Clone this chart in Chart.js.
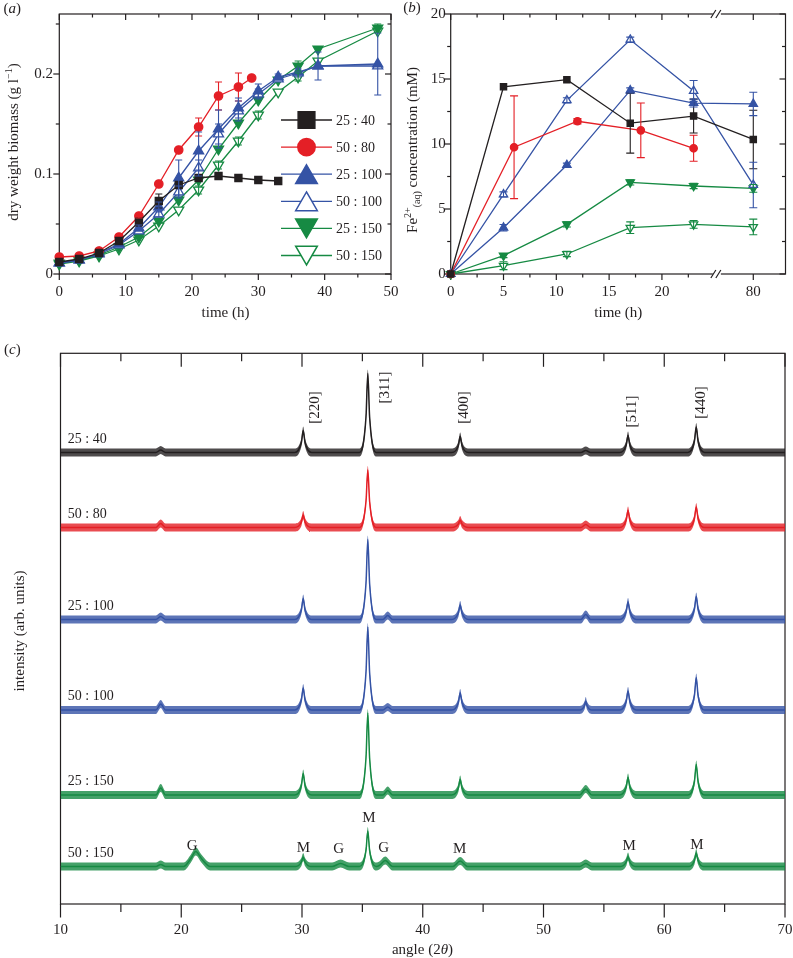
<!DOCTYPE html>
<html lang="en">
<head>
<meta charset="utf-8">
<title>biomass, Fe2+ and XRD</title>
<script src="https://cdn.jsdelivr.net/npm/chart.js@4.4.1/dist/chart.umd.min.js"></script>
<style>
  body{margin:0;background:#fff;}
  #lienzo{position:relative;width:793px;height:958px;background:#fff;overflow:hidden;}
  #lienzo canvas{position:absolute;}
</style>
</head>
<body>
<div id="lienzo">
  <canvas id="graficoA" width="400" height="325" style="left:0;top:0"></canvas>
  <canvas id="graficoB" width="393" height="325" style="left:400px;top:0"></canvas>
  <canvas id="graficoC" width="793" height="628" style="left:0;top:330px"></canvas>
</div>
<script>
// ---------- (a) biomasa seca vs tiempo ----------
const etiquetas = ['25 : 40','50 : 80','25 : 100','50 : 100','25 : 150','50 : 150'];
const tA        = [0,3,6,9,12,15,18,21,24,27,30,33,36,39,48];
const tA_25_40  = [0,3,6,9,12,15,18,21,24,27,30,33];
const tA_50_80  = [0,3,6,9,12,15,18,21,24,27,29];
const bio_25_40  = [0.012,0.015,0.021,0.033,0.052,0.073,0.089,0.096,0.098,0.096,0.094,0.093];
const bio_50_80  = [0.017,0.018,0.023,0.037,0.058,0.090,0.124,0.147,0.178,0.187,0.196];
const bio_25_100 = [0.011,0.014,0.021,0.030,0.046,0.067,0.096,0.123,0.145,0.166,0.183,0.197,0.202,0.208,0.210];
const bio_50_100 = [0.011,0.014,0.020,0.029,0.043,0.060,0.082,0.106,0.140,0.163,0.180,0.195,0.201,0.208,0.208];
const bio_25_150 = [0.011,0.014,0.019,0.027,0.037,0.053,0.074,0.094,0.125,0.151,0.174,0.194,0.208,0.225,0.246];
const bio_50_150 = [0.010,0.013,0.018,0.025,0.034,0.048,0.064,0.084,0.109,0.133,0.159,0.182,0.197,0.213,0.243];
const errBio_25_40  = [0,0,0,0,0.004,0.007,0.003,0.003,0,0,0,0];
const errBio_50_80  = [0,0,0,0,0.002,0,0.002,0.009,0.014,0.014,0];
const errBio_25_100 = [0,0,0,0,0.003,0.005,0.018,0.019,0.019,0.010,0.007,0.003,0,0,0.031];
const errBio_50_100 = [0,0,0,0,0,0.003,0.006,0.008,0.010,0.010,0.005,0,0.004,0.014,0];
const errBio_25_150 = [0,0,0,0,0,0,0,0,0,0,0,0,0.005,0,0.004];
const errBio_50_150 = [0,0,0,0,0,0,0,0.004,0.004,0.004,0.004,0,0.004,0,0];

// ---------- (b) Fe2+ en solucion vs tiempo (eje x con corte) ----------
const tB       = [0,5,11,17,23,80];
const tB_50_80 = [0,6,12,18,23];
const fe_25_40  = [0,14.4,14.95,11.6,12.15,10.35];
const fe_50_80  = [0,9.75,11.75,11.05,9.67];
const fe_25_100 = [0,3.56,8.38,14.12,13.15,13.08];
const fe_50_100 = [0,6.12,13.36,18.02,14.08,6.85];
const fe_25_150 = [0,1.41,3.82,7.05,6.77,6.59];
const fe_50_150 = [0,0.64,1.54,3.56,3.82,3.62];
const errFe_25_40  = [0,0,0,2.3,1.3,2.25];
const errFe_50_80  = [0,3.95,0.2,2.1,1.0];
const errFe_25_100 = [0,0.25,0.15,0.2,0.3,0.9];
const errFe_50_100 = [0,0.2,0.2,0.2,0.8,1.75];
const errFe_25_150 = [0,0.15,0.2,0.2,0.2,0.3];
const errFe_50_150 = [0,0.3,0.2,0.45,0.3,0.6];
const corteB = 25.2, saltoB = 51.35;           // 80 h se dibuja en 28.65
const romper = t => t > corteB ? t - saltoB : t;

// ---------- (c) difractogramas [angulo 2theta, intensidad sobre la base] ----------
const xrd_25_40 = [[10,0],[17.9,0],[18.3,0.5],[18.7,0],
  [29.4,0],[29.95,2.0],[30.1,4.4],[30.25,2.0],[30.8,0],
  [34.75,0],[35.3,7.1],[35.45,15.8],[35.6,7.1],[36.15,0],
  [42.4,0],[42.95,1.4],[43.1,3.2],[43.25,1.4],[43.8,0],
  [53.1,0],[53.5,0.4],[53.9,0],
  [56.3,0],[56.85,1.5],[57.0,3.4],[57.15,1.5],[57.7,0],
  [61.95,0],[62.5,2.3],[62.65,5.1],[62.8,2.3],[63.35,0],[70,0]];
const xrd_50_80 = [[10,0],[17.9,0],[18.3,0.8],[18.7,0],
  [29.4,0],[29.95,1.1],[30.1,2.5],[30.25,1.1],[30.8,0],
  [34.75,0],[35.3,5.2],[35.45,11.5],[35.6,5.2],[36.15,0],
  [42.4,0],[42.95,0.7],[43.1,1.5],[43.25,0.7],[43.8,0],
  [53.1,0],[53.5,0.6],[53.9,0],
  [56.3,0],[56.85,1.5],[57.0,3.4],[57.15,1.5],[57.7,0],
  [61.95,0],[62.5,1.8],[62.65,4.1],[62.8,1.8],[63.35,0],[70,0]];
const xrd_25_100 = [[10,0],[17.9,0],[18.3,0.6],[18.7,0],
  [29.4,0],[29.95,1.9],[30.1,4.2],[30.25,1.9],[30.8,0],
  [34.75,0],[35.3,7.2],[35.45,16.0],[35.6,7.2],[36.15,0],
  [36.7,0],[37.1,0.8],[37.5,0],
  [42.4,0],[42.95,1.3],[43.1,2.9],[43.25,1.3],[43.8,0],
  [53.1,0],[53.5,1.0],[53.9,0],
  [56.3,0],[56.85,1.6],[57.0,3.5],[57.15,1.6],[57.7,0],
  [61.95,0],[62.5,2.1],[62.65,4.6],[62.8,2.1],[63.35,0],[70,0]];
const xrd_50_100 = [[10,0],[17.9,0],[18.3,1.2],[18.7,0],
  [29.4,0],[29.95,2.0],[30.1,4.4],[30.25,2.0],[30.8,0],
  [34.75,0],[35.3,7.5],[35.45,16.6],[35.6,7.5],[36.15,0],
  [36.7,0],[37.1,0.6],[37.5,0],
  [42.4,0],[42.95,1.5],[43.1,3.4],[43.25,1.5],[43.8,0],
  [53.0,0],[53.4,0.9],[53.5,1.8],[53.6,0.9],[54.0,0],
  [56.3,0],[56.85,1.7],[57.0,3.8],[57.15,1.7],[57.7,0],
  [61.95,0],[62.5,2.9],[62.65,6.5],[62.8,2.9],[63.35,0],[70,0]];
const xrd_25_150 = [[10,0],[17.9,0],[18.3,1.4],[18.7,0],
  [29.4,0],[29.95,1.9],[30.1,4.3],[30.25,1.9],[30.8,0],
  [34.75,0],[35.3,7.4],[35.45,16.4],[35.6,7.4],[36.15,0],
  [36.7,0],[37.1,0.9],[37.5,0],
  [42.4,0],[42.95,1.4],[43.1,3.1],[43.25,1.4],[43.8,0],
  [53.0,0],[53.5,1.2],[54.0,0],
  [56.3,0],[56.85,1.6],[57.0,3.5],[57.15,1.6],[57.7,0],
  [61.95,0],[62.5,2.7],[62.65,6.1],[62.8,2.7],[63.35,0],[70,0]];
const xrd_50_150 = [[10,0],[17.9,0],[18.3,0.4],[18.7,0],
  [20.2,0],[20.8,1.6],[21.2,3.0],[21.7,1.5],[22.4,0],
  [29.5,0],[29.95,0.9],[30.1,1.9],[30.25,0.9],[30.7,0],
  [32.5,0],[33.2,0.6],[33.9,0],
  [34.75,0],[35.3,3.2],[35.45,7.1],[35.6,3.2],[36.15,0],
  [36.4,0.2],[36.9,1.2],[37.5,0],
  [42.5,0],[43.1,1.1],[43.7,0],
  [53.0,0],[53.5,0.6],[54.0,0],
  [56.4,0],[56.85,0.9],[57.0,2.0],[57.15,0.9],[57.6,0],
  [62.05,0],[62.5,1.2],[62.65,2.7],[62.8,1.2],[63.25,0],[70,0]];
const desplazC = [90.3,75.3,56.9,38.8,21.8,7.5];   // desplazamiento vertical de cada patron
const ruidoC = 0.8;                                  // media banda de ruido
const indicesC = [['[220]',30.97,99.3],['[311]',36.76,103.3],['[400]',43.33,99.3],['[511]',57.27,98.5],['[440]',62.98,100.3]];
const fasesC = [['G',20.9,11.9],['M',30.12,11.5],['G',33.04,11.2],['M',35.55,17.5],['G',36.76,11.5],['M',43.05,11.3],['M',57.1,11.8],['M',62.7,12.1]];

// ---------- estilos ----------
const TINTA = '#231f20';
const FUENTE = '"Liberation Serif","Times New Roman",serif';
const negro='#231f20', rojo='#e41f26', azul='#3553a5', verde='#168a43';
const conAlfa = (hex,a) => 'rgba('+parseInt(hex.slice(1,3),16)+','+parseInt(hex.slice(3,5),16)+','+parseInt(hex.slice(5,7),16)+','+a+')';

function fuente(s){return (s.it?'italic ':'')+(s.size||15)+'px '+FUENTE;}
function textoRico(ctx,segs,x,y,rot,align){
  ctx.save(); ctx.translate(x,y); if(rot) ctx.rotate(rot);
  ctx.textBaseline='alphabetic'; ctx.textAlign='left'; ctx.fillStyle=TINTA;
  let w=0; for(const s of segs){ctx.font=fuente(s); w+=ctx.measureText(s.t).width;}
  let cx = align==='left'?0:(align==='right'?-w:-w/2);
  for(const s of segs){ctx.font=fuente(s); ctx.fillText(s.t,cx,5+(s.dy||0)); cx+=ctx.measureText(s.t).width;}
  ctx.restore();
}

// marco, marcas (abajo/izq hacia fuera, arriba/der hacia dentro) y numeros
const ejes = {id:'ejes', beforeDatasetsDraw(chart,args,o){
  const {ctx,chartArea:a,scales:{x,y}} = chart;
  const raya=(x1,y1,x2,y2)=>{ctx.beginPath();ctx.moveTo(x1,y1);ctx.lineTo(x2,y2);ctx.stroke();};
  ctx.save();
  ctx.strokeStyle=TINTA; ctx.lineWidth=1.2;
  ctx.strokeRect(a.left,a.top,a.right-a.left,a.bottom-a.top);
  for(const [vals,len] of [[o.xMayor,o.lMayor],[o.xMenor,o.lMenor]]) for(const v of vals){
    const px=x.getPixelForValue(v); raya(px,a.bottom,px,a.bottom+len); raya(px,a.top,px,a.top+len);
  }
  for(const [vals,len] of [[o.yMayor||[],o.lMayor],[o.yMenor||[],o.lMenor]]) for(const v of vals){
    const py=y.getPixelForValue(v); raya(a.left-len,py,a.left,py); raya(a.right-len,py,a.right,py);
  }
  if(o.corte!==undefined){
    const pc=x.getPixelForValue(o.corte);
    for(const yy of [a.top,a.bottom]){
      ctx.fillStyle='#fff'; ctx.fillRect(pc-4,yy-2,8,4);
      raya(pc-6,yy+4,pc-1,yy-4); raya(pc-1,yy+4,pc+4,yy-4);
    }
  }
  ctx.fillStyle=TINTA; ctx.font='15px '+FUENTE; ctx.textBaseline='middle';
  ctx.textAlign='center';
  for(const [v,t] of o.xTextos) ctx.fillText(t,x.getPixelForValue(v),a.bottom+o.sepX);
  ctx.textAlign='right';
  for(const [v,t] of (o.yTextos||[])) ctx.fillText(t,a.left-o.sepY,y.getPixelForValue(v));
  ctx.restore();
}};

const barrasError = {id:'barrasError', afterDatasetsDraw(chart,args,o){
  const {ctx,scales:{y}} = chart;
  chart.data.datasets.forEach((d,i)=>{
    if(!d.errores) return;
    const meta=chart.getDatasetMeta(i);
    ctx.save(); ctx.strokeStyle=d.borderColor; ctx.lineWidth=1.1;
    meta.data.forEach((p,j)=>{
      const e=d.errores[j]; if(!e) return;
      const v=d.data[j].y, y1=y.getPixelForValue(v+e), y2=y.getPixelForValue(v-e);
      ctx.beginPath();
      ctx.moveTo(p.x,y1); ctx.lineTo(p.x,y2);
      ctx.moveTo(p.x-o.tapa,y1); ctx.lineTo(p.x+o.tapa,y1);
      ctx.moveTo(p.x-o.tapa,y2); ctx.lineTo(p.x+o.tapa,y2);
      ctx.stroke();
    });
    ctx.restore();
  });
}};

const textos = {id:'textos', afterDraw(chart,args,o){
  const {ctx,scales:{x,y}} = chart;
  for(const it of o.items){
    const px = it.datos ? x.getPixelForValue(it.x) : it.x;
    const py = it.datos ? y.getPixelForValue(it.y) : it.y;
    textoRico(ctx,it.segs,px,py,it.rot||0,it.align);
  }
}};

const leyendaA = {id:'leyendaA', afterDraw(chart){
  const ctx=chart.ctx;
  chart.data.datasets.forEach((d,i)=>{
    const yy=120+i*27.1;
    ctx.save();
    ctx.strokeStyle=d.borderColor; ctx.lineWidth=1.3;
    ctx.beginPath(); ctx.moveTo(281,yy); ctx.lineTo(332,yy); ctx.stroke();
    ctx.fillStyle=d.pointBackgroundColor; ctx.lineWidth=1.5;
    const r=d.radioLeyenda, tri=d.pointStyle==='triangle';
    const dy = tri ? (d.pointRotation ? -0.25*r : 0.25*r) : 0;
    Chart.helpers.drawPoint(ctx,{pointStyle:d.pointStyle,rotation:d.pointRotation||0,radius:r,borderWidth:1.5},306.5,yy+dy);
    ctx.fillStyle=TINTA; ctx.font='14px '+FUENTE; ctx.textAlign='left'; ctx.textBaseline='middle';
    ctx.fillText(d.label,336,yy+1);
    ctx.restore();
  });
}};

function serie(label,xs,ys,errs,color,estilo,rot,lleno,r,rl){
  return {label, data:xs.map((x,i)=>({x,y:ys[i]})), errores:errs,
    borderColor:color, backgroundColor:color, borderWidth:1.3,
    pointBackgroundColor:lleno?color:'#fff', pointBorderColor:color, pointBorderWidth:1.3,
    pointStyle:estilo, pointRotation:rot, pointRadius:r, pointHoverRadius:r,
    radioLeyenda:rl, clip:false, tension:0, fill:false};
}
const comunes = {responsive:false, animation:false, events:[], devicePixelRatio:1};

// ---------- grafico (a) ----------
const dsA = [
  serie(etiquetas[0],tA_25_40,bio_25_40,errBio_25_40,negro,'rect',0,true,5,11.8),
  serie(etiquetas[1],tA_50_80,bio_50_80,errBio_50_80,rojo,'circle',0,true,4.2,8.7),
  serie(etiquetas[2],tA,bio_25_100,errBio_25_100,azul,'triangle',0,true,5.8,12.5),
  serie(etiquetas[3],tA,bio_50_100,errBio_50_100,azul,'triangle',0,false,5.8,12.5),
  serie(etiquetas[4],tA,bio_25_150,errBio_25_150,verde,'triangle',180,true,5.8,12.5),
  serie(etiquetas[5],tA,bio_50_150,errBio_50_150,verde,'triangle',180,false,5.8,12.5)
];
new Chart(document.getElementById('graficoA'),{
  type:'line', data:{datasets:dsA},
  options:{...comunes,
    layout:{padding:{left:59.3,top:14,right:9,bottom:51}},
    scales:{x:{type:'linear',display:false,min:0,max:50}, y:{display:false,min:0,max:0.26}},
    plugins:{legend:{display:false}, tooltip:{enabled:false},
      ejes:{xMayor:[0,10,20,30,40,50], xMenor:[5,15,25,35,45], yMayor:[0,0.1,0.2], yMenor:[0.05,0.15,0.25],
        xTextos:[0,10,20,30,40,50].map(v=>[v,String(v)]), yTextos:[[0,'0'],[0.1,'0.1'],[0.2,'0.2']],
        lMayor:6, lMenor:3.5, sepX:17.7, sepY:6.3},
      barrasError:{tapa:3.5},
      textos:{items:[
        {segs:[{t:'('},{t:'a',it:1},{t:')'}], x:3.5, y:7.5, align:'left'},
        {segs:[{t:'time (h)'}], x:225.5, y:311.7},
        {segs:[{t:'dry weight biomass (g l'},{t:'\u22121',size:10,dy:-6},{t:')'}], x:13.3, y:142, rot:-Math.PI/2}
      ]}
    }
  },
  plugins:[ejes,barrasError,textos,leyendaA]
});

// ---------- grafico (b) ----------
const dsB = [
  serie(etiquetas[0],tB.map(romper),fe_25_40,errFe_25_40,negro,'rect',0,true,4.4,0),
  serie(etiquetas[1],tB_50_80.map(romper),fe_50_80,errFe_50_80,rojo,'circle',0,true,3.7,0),
  serie(etiquetas[2],tB.map(romper),fe_25_100,errFe_25_100,azul,'triangle',0,true,4.8,0),
  serie(etiquetas[3],tB.map(romper),fe_50_100,errFe_50_100,azul,'triangle',0,false,4.8,0),
  serie(etiquetas[4],tB.map(romper),fe_25_150,errFe_25_150,verde,'triangle',180,true,4.8,0),
  serie(etiquetas[5],tB.map(romper),fe_50_150,errFe_50_150,verde,'triangle',180,false,4.8,0)
];
new Chart(document.getElementById('graficoB'),{
  type:'line', data:{datasets:dsB},
  options:{...comunes,
    layout:{padding:{left:50.7,top:14,right:7.5,bottom:51}},
    scales:{x:{type:'linear',display:false,min:0,max:31.7}, y:{display:false,min:0,max:20}},
    plugins:{legend:{display:false}, tooltip:{enabled:false},
      ejes:{xMayor:[0,5,10,15,20,80].map(romper), xMenor:[2.5,7.5,12.5,17.5,22.5].map(romper),
        yMayor:[0,5,10,15,20], yMenor:[2.5,7.5,12.5,17.5],
        xTextos:[0,5,10,15,20,80].map(v=>[romper(v),String(v)]), yTextos:[0,5,10,15,20].map(v=>[v,String(v)]),
        lMayor:6, lMenor:3.5, sepX:17.7, sepY:5, corte:corteB},
      barrasError:{tapa:4},
      textos:{items:[
        {segs:[{t:'('},{t:'b',it:1},{t:')'}], x:3.3, y:7, align:'left'},
        {segs:[{t:'time (h)'}], x:218.3, y:311.7},
        {segs:[{t:'Fe'},{t:'2+',size:10,dy:-6},{t:'(aq)',size:10,dy:3},{t:' concentration (mM)'}], x:11.7, y:150, rot:-Math.PI/2}
      ]}
    }
  },
  plugins:[ejes,barrasError,textos]
});

// ---------- grafico (c) ----------
const trazasC  = [xrd_25_40,xrd_50_80,xrd_25_100,xrd_50_100,xrd_25_150,xrd_50_150];
const coloresC = [negro,rojo,azul,azul,verde,verde];
const dsC = [];
trazasC.forEach((tr,i)=>{
  const col=coloresC[i];
  const pts=tr.map(([ang,v])=>({x:ang,y:desplazC[i]+v}));
  const comun={pointRadius:0,cubicInterpolationMode:'monotone'};
  dsC.push({...comun,data:pts.map(p=>({x:p.x,y:p.y-ruidoC})),borderColor:'rgba(0,0,0,0)',borderWidth:1,fill:false});
  dsC.push({...comun,data:pts.map(p=>({x:p.x,y:p.y+ruidoC})),borderColor:'rgba(0,0,0,0)',borderWidth:1,fill:'-1',backgroundColor:conAlfa(col,0.8)});
  dsC.push({...comun,data:pts,borderColor:col,borderWidth:1.5,fill:false});
});
const itemsC = [
  {segs:[{t:'('},{t:'c',it:1},{t:')'}], x:4, y:19.3, align:'left'},
  {segs:[{t:'angle (2'},{t:'\u03b8',it:1},{t:')'}], x:422.5, y:619.3},
  {segs:[{t:'intensity (arb. units)'}], x:19, y:301, rot:-Math.PI/2}
];
etiquetas.forEach((e,i)=>itemsC.push({segs:[{t:e,size:14}], x:10.6, y:desplazC[i]+3, datos:true, align:'left'}));
indicesC.forEach(([t,ang,v])=>itemsC.push({segs:[{t}], x:ang, y:v, datos:true, rot:-Math.PI/2}));
fasesC.forEach(([t,ang,v])=>itemsC.push({segs:[{t}], x:ang, y:v, datos:true}));
new Chart(document.getElementById('graficoC'),{
  type:'line', data:{datasets:dsC},
  options:{...comunes,
    layout:{padding:{left:60.5,top:23.3,right:8,bottom:54}},
    scales:{x:{type:'linear',display:false,min:10,max:70}, y:{display:false,min:0,max:110.14}},
    plugins:{legend:{display:false}, tooltip:{enabled:false},
      ejes:{xMayor:[10,20,30,40,50,60,70], xMenor:[15,25,35,45,55,65],
        xTextos:[10,20,30,40,50,60,70].map(v=>[v,String(v)]),
        lMayor:13.5, lMenor:8, sepX:26, sepY:0},
      textos:{items:itemsC}
    }
  },
  plugins:[ejes,textos]
});
</script>
</body>
</html>
